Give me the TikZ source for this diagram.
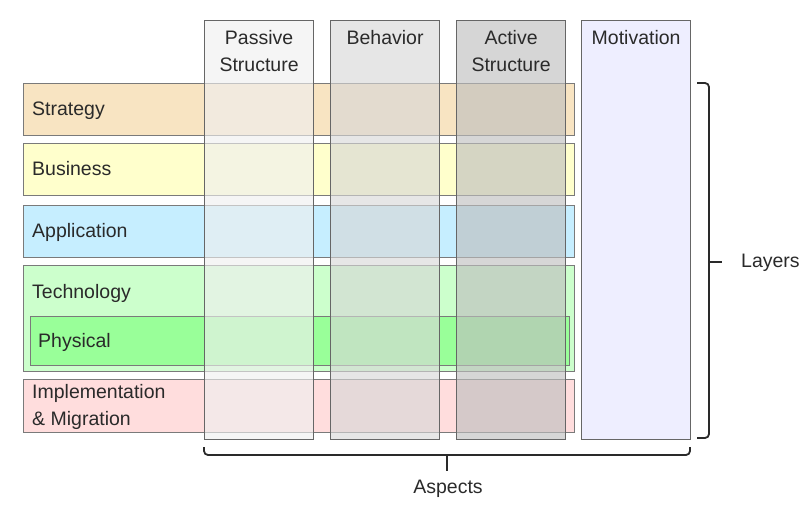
\documentclass[tikz,border=0pt]{standalone}
\usepackage{fontspec}
\setmainfont{Liberation Sans}
\usetikzlibrary{positioning}
\definecolor{lstrat}{HTML}{F8E4C2}
\definecolor{lbus}{HTML}{FFFFCC}
\definecolor{lappl}{HTML}{C6EEFF}
\definecolor{ltech}{HTML}{CCFFCC}
\definecolor{lphys}{HTML}{99FF99}
\definecolor{limpl}{HTML}{FFDDDD}
\definecolor{apass}{HTML}{EFEFEF}
\definecolor{abeh}{HTML}{D7D7D7}
\definecolor{aact}{HTML}{BEBEBE}
\definecolor{amotiv}{HTML}{EEEEFF}
\definecolor{edgegray}{HTML}{7A7A7A}
\definecolor{inkgray}{HTML}{2A2A2A}
\tikzset{
  % horizontal band of one layer
  layer/.style={draw=edgegray, line width=1.2pt, minimum width=551pt,
    minimum height=52pt, anchor=north west, inner sep=0pt},
  % vertical column of one aspect
  aspect/.style={draw=black!60, line width=1.2pt, minimum width=109pt,
    minimum height=419pt, anchor=north west, inner sep=0pt, fill opacity=0.63},
  % texts
  lbl/.style={font=\fontsize{19.5}{27.5}\selectfont, text=inkgray, inner sep=0pt},
  coltitle/.style={lbl, align=center, anchor=north},
  % grouping bracket
  grpline/.style={line width=1.8pt, draw=inkgray, rounded corners=4pt},
}
\begin{document}
\begin{tikzpicture}[x=1pt, y=-1pt]
  \useasboundingbox (0,0) rectangle (806,527);
  % layers
  \foreach \name/\col/\top/\txt in {strategy/lstrat/83/Strategy, business/lbus/143/Business,
    application/lappl/205/Application} {
    \node[layer, fill=\col] (\name) at (23,\top) {};
    \node[lbl, anchor=base west, xshift=9pt, yshift=-6pt] at (\name.west) {\txt};
  }
  \node[layer, fill=ltech, minimum height=106pt] (technology) at (23,265) {};
  \node[lbl, anchor=base west] at (32,298) {Technology};
  \node[layer, fill=lphys, minimum width=539pt, minimum height=49pt] (physical) at (30,316) {};
  \node[lbl, anchor=base west] at (38,347) {Physical};
  \node[layer, fill=limpl, minimum height=53pt] (implementation) at (23,379) {};
  \node[lbl, align=left, anchor=north west] at (32,384) {Implementation\\\& Migration};
  % aspects
  \foreach \name/\col/\x in {passive/apass/204, behavior/abeh/330, active/aact/456}
    \node[aspect, fill=\col] (\name) at (\x,20) {};
  \node[aspect, fill=amotiv, fill opacity=1] (motivation) at (581,20) {};
  \node[coltitle, below=10pt of passive.north] {Passive\\Structure};
  \node[coltitle, below=10pt of behavior.north] {Behavior};
  \node[coltitle, below=10pt of active.north] {Active\\Structure};
  \node[coltitle, below=10pt of motivation.north] {Motivation};
  % brackets
  \coordinate (layerstop) at (697,83);
  \coordinate (layersbot) at (697,438);
  \coordinate (layersmid) at (709,262);
  \draw[grpline] (layerstop) -- ++(12,0) -- ++(0,355) -- (layersbot);
  \draw[grpline] (layersmid) -- ++(13,0);
  \node[lbl, anchor=base west] (layers) at (741,267) {Layers};
  \coordinate (aspright) at (690,447);
  \coordinate (aspleft) at (204,447);
  \coordinate (aspmid) at (447,455);
  \draw[grpline] (aspleft) -- ++(0,8) -- ++(486,0) -- (aspright);
  \draw[grpline] (aspmid) -- ++(0,16);
  \node[lbl, anchor=base] (aspects) at (448,493) {Aspects};
\end{tikzpicture}
\end{document}
